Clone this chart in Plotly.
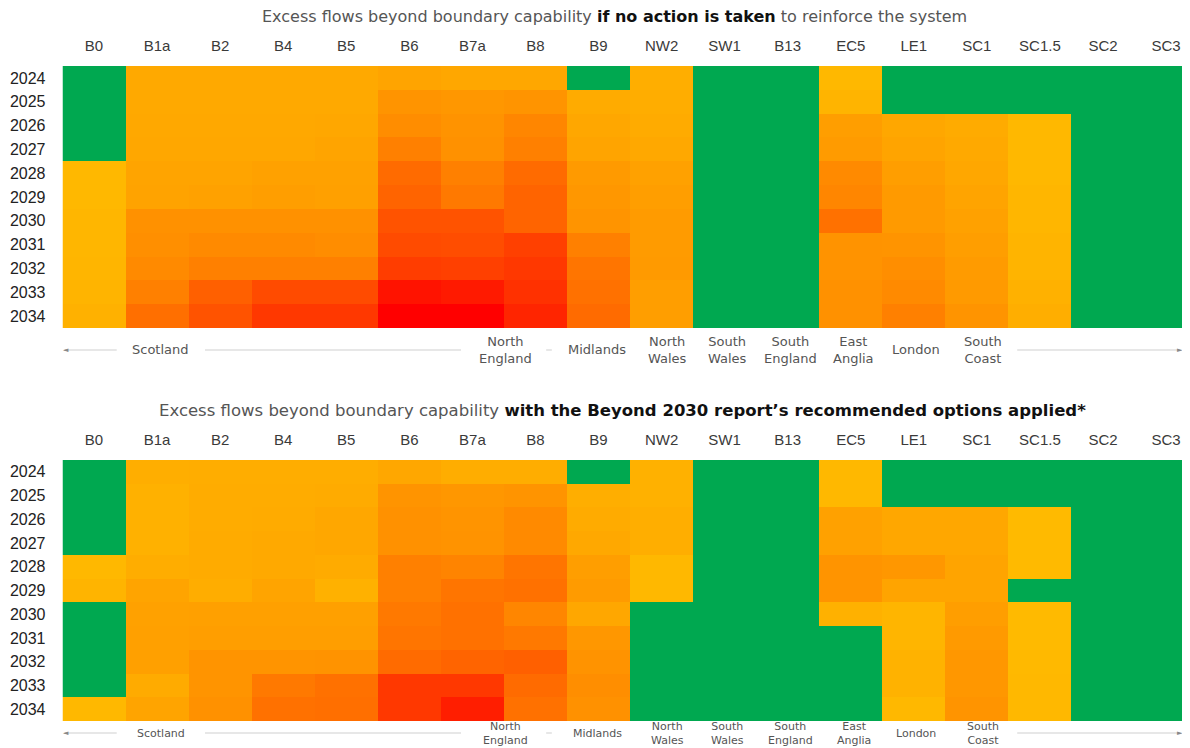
import numpy as np
import plotly.graph_objects as go

boundaries = ["B0", "B1a", "B2", "B4", "B5", "B6", "B7a", "B8", "B9", "NW2",
              "SW1", "B13", "EC5", "LE1", "SC1", "SC1.5", "SC2", "SC3"]
years = ["2024", "2025", "2026", "2027", "2028", "2029", "2030", "2031", "2032", "2033", "2034"]

# Excess-flow intensity per boundary (columns), one value per year; 0 = within capability
no_action_cols = [
    [0, 0, 0, 0, 1.5, 1.5, 1.6, 1.6, 1.7, 1.8, 2.0],        # B0
    [2.6, 2.6, 2.7, 2.8, 3.0, 3.1, 4.5, 4.6, 5.0, 5.5, 6.3],  # B1a
    [2.6, 2.6, 2.7, 2.8, 3.0, 3.2, 4.5, 5.0, 5.5, 7.0, 7.5],  # B2
    [2.6, 2.6, 2.7, 2.8, 3.2, 3.5, 4.5, 5.0, 5.5, 7.8, 8.5],  # B4
    [2.6, 2.6, 2.8, 3.0, 3.2, 3.3, 4.5, 4.8, 5.5, 7.8, 8.5],  # B5
    [3.0, 4.2, 4.8, 5.5, 6.5, 6.8, 7.5, 7.8, 8.3, 9.5, 10],   # B6
    [2.8, 4.0, 4.3, 4.5, 5.5, 5.8, 7.5, 7.7, 8.2, 9.3, 10],   # B7a
    [2.8, 4.2, 5.2, 5.5, 6.5, 6.8, 6.8, 8.2, 8.5, 8.7, 9.0],  # B8
    [0, 2.5, 2.8, 3.0, 3.8, 4.0, 4.2, 5.5, 6.0, 6.2, 6.5],    # B9
    [2.2, 2.3, 2.5, 2.7, 3.2, 3.5, 3.7, 3.7, 3.8, 3.5, 3.5],  # NW2
    [0, 0, 0, 0, 0, 0, 0, 0, 0, 0, 0],                        # SW1
    [0, 0, 0, 0, 0, 0, 0, 0, 0, 0, 0],                        # B13
    [1.5, 1.8, 3.5, 3.7, 5.0, 5.2, 6.2, 4.3, 4.3, 4.5, 4.5],  # EC5
    [0, 0, 2.8, 3.0, 3.5, 3.8, 3.8, 4.2, 4.7, 5.0, 5.5],      # LE1
    [0, 0, 2.5, 2.6, 2.8, 3.0, 3.2, 3.5, 3.7, 3.8, 4.2],      # SC1
    [0, 0, 1.5, 1.5, 1.5, 1.6, 1.6, 1.8, 1.8, 2.0, 2.2],      # SC1.5
    [0, 0, 0, 0, 0, 0, 0, 0, 0, 0, 0],                        # SC2
    [0, 0, 0, 0, 0, 0, 0, 0, 0, 0, 0],                        # SC3
]

with_options_cols = [
    [0, 0, 0, 0, 1.5, 1.8, 0, 0, 0, 0, 1.5],                  # B0
    [2.2, 2.0, 2.0, 2.0, 2.3, 3.0, 3.2, 3.3, 3.3, 2.5, 3.0],  # B1a
    [2.3, 2.4, 2.4, 2.5, 2.5, 2.3, 3.3, 3.5, 4.2, 4.2, 4.5],  # B2
    [2.3, 2.4, 2.5, 2.6, 2.6, 3.0, 3.3, 3.5, 4.2, 5.8, 6.2],  # B4
    [2.3, 2.5, 2.8, 2.8, 2.5, 2.0, 3.3, 3.5, 4.3, 6.2, 6.3],  # B5
    [2.8, 4.2, 4.5, 4.5, 5.5, 5.5, 5.8, 6.0, 6.5, 8.5, 8.5],  # B6
    [2.3, 4.0, 4.2, 4.3, 5.3, 6.0, 6.2, 6.2, 6.8, 8.5, 9.2],  # B7a
    [2.3, 4.2, 5.0, 5.0, 6.0, 6.2, 5.2, 5.8, 7.0, 6.5, 6.2],  # B8
    [0, 2.2, 2.5, 2.7, 3.5, 3.7, 2.8, 4.0, 4.3, 4.7, 4.5],    # B9
    [2.0, 2.0, 2.2, 2.2, 1.5, 1.5, 0, 0, 0, 0, 0],            # NW2
    [0, 0, 0, 0, 0, 0, 0, 0, 0, 0, 0],                        # SW1
    [0, 0, 0, 0, 0, 0, 0, 0, 0, 0, 0],                        # B13
    [1.5, 1.5, 3.2, 3.2, 4.2, 4.2, 2.0, 0, 0, 0, 0],          # EC5
    [0, 0, 2.8, 2.8, 4.0, 3.0, 1.7, 1.7, 1.9, 1.9, 1.5],      # LE1
    [0, 0, 2.8, 2.8, 3.0, 3.0, 3.5, 3.8, 4.0, 4.0, 4.2],      # SC1
    [0, 0, 1.3, 1.3, 1.3, 0, 1.3, 1.3, 1.4, 1.5, 1.5],        # SC1.5
    [0, 0, 0, 0, 0, 0, 0, 0, 0, 0, 0],                        # SC2
    [0, 0, 0, 0, 0, 0, 0, 0, 0, 0, 0],                        # SC3
]

regions = ["Scotland", "North<br>England", "Midlands", "North<br>Wales", "South<br>Wales",
           "South<br>England", "East<br>Anglia", "London", "South<br>Coast"]
region_pos = [1.06, 6.52, 7.98, 9.09, 10.04, 11.05, 12.05, 13.04, 14.1]

title_top = ("Excess flows beyond boundary capability <b><span style='color:#111'>if no action is taken</span></b>"
             " to reinforce the system")
title_bottom = ("Excess flows beyond boundary capability <b><span style='color:#111'>with the Beyond 2030 "
                "report\u2019s recommended options applied*</span></b>")

GREEN = "#00A850"
colorscale = [
    [0.0, GREEN], [0.099, GREEN],
    [0.1, "#FFBE00"], [0.3, "#FFA400"], [0.5, "#FF8A00"],
    [0.7, "#FF6000"], [0.85, "#FF3800"], [1.0, "#FF0000"],
]

z_top = np.array(no_action_cols, dtype=float).T
z_bot = np.array(with_options_cols, dtype=float).T

# The page body has an 8px margin; the figure fills the rest of the 1190x748 window.
OFF = 8
W, H = 1190 - OFF, 748 - OFF
def py(px):
    return 1 - (px - OFF) / H
def pxx(px):
    return (px - OFF) / W

xrange_ = [-0.5, 17.38]

fig = go.Figure()
fig.add_trace(go.Heatmap(z=z_top, x=boundaries, y=years, colorscale=colorscale, zmin=0, zmax=10,
                         showscale=False, xaxis="x", yaxis="y", hoverinfo="skip"))
fig.add_trace(go.Heatmap(z=z_bot, x=boundaries, y=years, colorscale=colorscale, zmin=0, zmax=10,
                         showscale=False, xaxis="x2", yaxis="y2", hoverinfo="skip"))

xa = dict(side="top", range=xrange_, domain=[pxx(62.5), 1.0], showgrid=False, zeroline=False,
          showline=False, ticks="", ticklabelstandoff=11, automargin=False,
          tickfont=dict(family="Liberation Sans, Arial", size=15, color="#3a3a3a"),
          type="category", categoryorder="array", categoryarray=boundaries)
ya = dict(autorange="reversed", showgrid=False, zeroline=False, showline=False, ticks="",
          ticklabelstandoff=16, automargin=False,
          tickfont=dict(family="Liberation Sans, Arial", size=16, color="#222"),
          type="category")

fig.update_layout(
    width=W, height=H,
    margin=dict(l=0, r=0, t=0, b=0, pad=0),
    paper_bgcolor="white", plot_bgcolor="white",
    xaxis=dict(**xa, anchor="y"),
    yaxis=dict(**ya, domain=[py(328), py(66)], anchor="x"),
    xaxis2=dict(**xa, anchor="y2"),
    yaxis2=dict(**ya, domain=[py(721), py(460)], anchor="x2"),
    font=dict(family="DejaVu Sans"),
)

annotations = []
shapes = []
title_font = dict(family="DejaVu Sans", size=16, color="#555")
annotations.append(dict(text=title_top, x=pxx(614), y=py(16), xref="paper", yref="paper",
                        showarrow=False, font=title_font, xanchor="center", yanchor="middle"))
annotations.append(dict(text=title_bottom, x=pxx(623), y=py(410), xref="paper", yref="paper",
                        showarrow=False, font=dict(family="DejaVu Sans", size=16.5, color="#555"),
                        xanchor="center", yanchor="middle"))

for xref, ycenter, fsize in (("x", 350, 13), ("x2", 733, 11)):
    for name, pos in zip(regions, region_pos):
        annotations.append(dict(text=name, x=pos, y=py(ycenter), xref=xref, yref="paper",
                                showarrow=False, xanchor="center", yanchor="middle",
                                font=dict(family="DejaVu Sans", size=fsize, color="#555"),
                                align="center"))
    for x0, x1 in ((-0.42, 0.36), (1.76, 5.82), (7.17, 7.26), (14.64, 17.22)):
        shapes.append(dict(type="line", xref=xref, yref="paper", x0=x0, x1=x1,
                           y0=py(ycenter), y1=py(ycenter), line=dict(color="#cfcfcf", width=1)))
    # arrow heads
    annotations.append(dict(text="\u25c4", x=-0.44, y=py(ycenter), xref=xref, yref="paper",
                            showarrow=False, xanchor="center", yanchor="middle",
                            font=dict(size=7, color="#888")))
    annotations.append(dict(text="\u25ba", x=17.3, y=py(ycenter), xref=xref, yref="paper",
                            showarrow=False, xanchor="right", yanchor="middle",
                            font=dict(size=7, color="#888")))

fig.update_layout(annotations=annotations, shapes=shapes)
fig.write_html("out.html")
